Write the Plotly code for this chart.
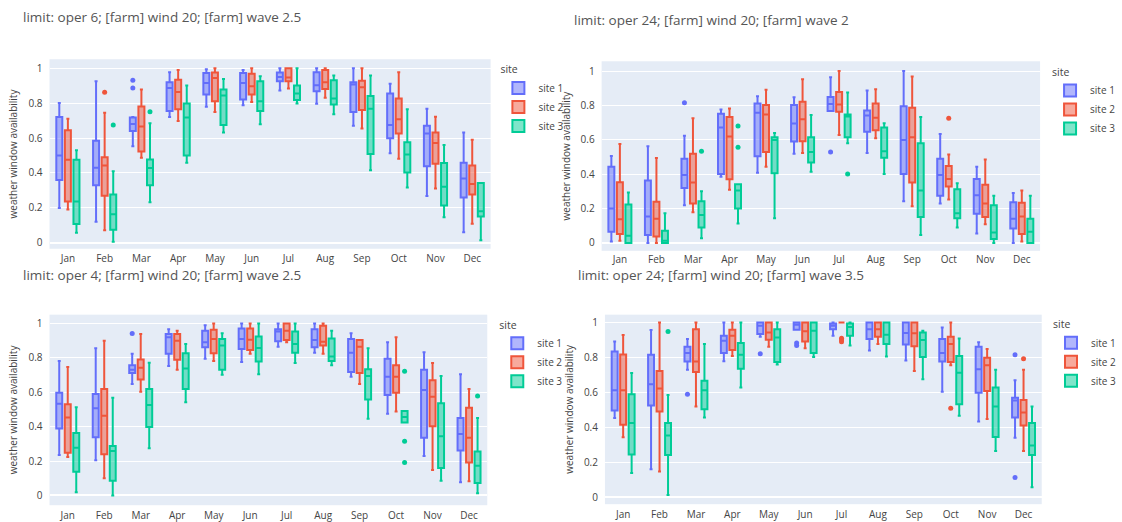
import plotly.graph_objects as go

MONTHS = ["Jan", "Feb", "Mar", "Apr", "May", "Jun", "Jul", "Aug", "Sep", "Oct", "Nov", "Dec"]
SITES = ["site 1", "site 2", "site 3"]
COLORS = ["#636efa", "#EF553B", "#00cc96"]
TITLES = [
    "limit: oper 6; [farm] wind 20; [farm] wave 2.5",
    "limit: oper 24; [farm] wind 20; [farm] wave 2",
    "limit: oper 4; [farm] wind 20; [farm] wave 2.5",
    "limit: oper 24; [farm] wind 20; [farm] wave 3.5",
]

# each row: (min, q1, median, q3, max) per month
P1_SITE1 = [(0.20, 0.36, 0.50, 0.72, 0.80), (0.12, 0.33, 0.43, 0.585, 0.925), (0.553, 0.64, 0.68, 0.717, 0.72),
            (0.72, 0.755, 0.887, 0.919, 0.977), (0.779, 0.849, 0.915, 0.972, 0.994), (0.787, 0.82, 0.915, 0.972, 0.99),
            (0.872, 0.925, 0.949, 0.975, 1.0), (0.796, 0.868, 0.902, 0.977, 1.0), (0.67, 0.749, 0.906, 0.919, 1.0),
            (0.513, 0.598, 0.674, 0.855, 0.911), (0.268, 0.438, 0.626, 0.67, 0.768), (0.06, 0.26, 0.368, 0.458, 0.632)]
P1_SITE2 = [(0.19, 0.236, 0.475, 0.645, 0.71), (0.072, 0.27, 0.443, 0.49, 0.745), (0.487, 0.523, 0.666, 0.78, 0.877),
            (0.698, 0.764, 0.864, 0.934, 0.99), (0.749, 0.811, 0.943, 0.975, 1.0), (0.806, 0.849, 0.896, 0.968, 1.0),
            (0.883, 0.925, 0.947, 1.0, 1.0), (0.83, 0.881, 0.919, 0.99, 1.0), (0.655, 0.76, 0.89, 0.928, 1.0),
            (0.481, 0.626, 0.708, 0.826, 0.977), (0.311, 0.453, 0.572, 0.632, 0.721), (0.109, 0.277, 0.336, 0.443, 0.59)]
P1_SITE3 = [(0.057, 0.108, 0.236, 0.475, 0.53), (0.006, 0.075, 0.164, 0.277, 0.41), (0.232, 0.33, 0.428, 0.477, 0.685),
            (0.458, 0.5, 0.717, 0.798, 0.9), (0.632, 0.674, 0.843, 0.877, 0.938), (0.679, 0.755, 0.811, 0.925, 0.953),
            (0.798, 0.817, 0.855, 0.9, 1.0), (0.736, 0.792, 0.826, 0.93, 0.958), (0.415, 0.509, 0.768, 0.84, 0.958),
            (0.317, 0.402, 0.506, 0.575, 0.764), (0.147, 0.213, 0.321, 0.457, 0.56), (0.015, 0.15, 0.18, 0.343, 0.343)]
P1_SITE1_OUT = {"Mar": [0.93, 0.887]}
P1_SITE2_OUT = {"Feb": [0.862]}
P1_SITE3_OUT = {"Feb": [0.674], "Mar": [0.75]}

P2_SITE1 = [(0.008, 0.065, 0.2, 0.443, 0.506), (0.0, 0.046, 0.153, 0.363, 0.563), (0.219, 0.319, 0.395, 0.49, 0.624),
            (0.385, 0.401, 0.672, 0.752, 0.777), (0.408, 0.504, 0.758, 0.811, 0.853), (0.519, 0.59, 0.695, 0.802, 0.847),
            (0.767, 0.767, 0.809, 0.849, 0.964), (0.523, 0.647, 0.742, 0.771, 0.887), (0.242, 0.401, 0.599, 0.796, 1.0),
            (0.229, 0.275, 0.395, 0.49, 0.634), (0.055, 0.17, 0.277, 0.372, 0.443), (0.0, 0.084, 0.141, 0.237, 0.29)]
P2_SITE2 = [(0.013, 0.052, 0.137, 0.353, 0.576), (0.0, 0.038, 0.141, 0.239, 0.494), (0.179, 0.229, 0.351, 0.519, 0.725),
            (0.309, 0.37, 0.62, 0.733, 0.782), (0.443, 0.529, 0.748, 0.802, 0.891), (0.523, 0.592, 0.719, 0.821, 0.952),
            (0.628, 0.763, 0.805, 0.878, 1.0), (0.609, 0.656, 0.729, 0.811, 0.895), (0.214, 0.351, 0.615, 0.786, 0.968),
            (0.252, 0.328, 0.372, 0.448, 0.515), (0.109, 0.151, 0.229, 0.338, 0.485), (0.008, 0.052, 0.153, 0.233, 0.305)]
P2_SITE3 = [(0.0, 0.0, 0.042, 0.223, 0.294), (0.0, 0.0, 0.013, 0.071, 0.172), (0.027, 0.09, 0.162, 0.242, 0.3),
            (0.113, 0.2, 0.305, 0.342, 0.342), (0.143, 0.405, 0.599, 0.615, 0.639), (0.414, 0.468, 0.529, 0.615, 0.744),
            (0.58, 0.615, 0.735, 0.748, 0.876), (0.401, 0.496, 0.534, 0.672, 0.697), (0.046, 0.151, 0.305, 0.58, 0.733),
            (0.09, 0.143, 0.172, 0.313, 0.347), (0.0, 0.023, 0.061, 0.219, 0.275), (0.0, 0.0, 0.065, 0.141, 0.275)]
P2_SITE1_OUT = {"Mar": [0.815], "Jul": [0.529]}
P2_SITE2_OUT = {"Oct": [0.725]}
P2_SITE3_OUT = {"Mar": [0.534], "Apr": [0.681, 0.557], "Jul": [0.401]}

P3_SITE1 = [(0.236, 0.389, 0.533, 0.598, 0.782), (0.205, 0.339, 0.508, 0.59, 0.856), (0.648, 0.713, 0.732, 0.757, 0.824),
            (0.753, 0.824, 0.92, 0.939, 0.967), (0.795, 0.862, 0.891, 0.958, 0.99), (0.776, 0.852, 0.91, 0.971, 1.0),
            (0.866, 0.897, 0.954, 0.967, 1.0), (0.83, 0.862, 0.904, 0.967, 1.0), (0.69, 0.718, 0.83, 0.91, 0.944),
            (0.475, 0.584, 0.69, 0.795, 0.891), (0.23, 0.335, 0.613, 0.732, 0.833), (0.077, 0.262, 0.358, 0.45, 0.705)]
P3_SITE2 = [(0.224, 0.249, 0.454, 0.531, 0.747), (0.1, 0.239, 0.464, 0.619, 0.9), (0.603, 0.674, 0.743, 0.791, 0.939),
            (0.732, 0.789, 0.9, 0.939, 0.958), (0.782, 0.828, 0.91, 0.964, 1.0), (0.824, 0.847, 0.906, 0.971, 1.0),
            (0.891, 0.904, 0.958, 1.0, 1.0), (0.824, 0.872, 0.895, 0.987, 1.0), (0.648, 0.713, 0.866, 0.904, 0.904),
            (0.489, 0.598, 0.69, 0.757, 0.92), (0.148, 0.402, 0.575, 0.67, 0.77), (0.082, 0.192, 0.335, 0.511, 0.619)]
P3_SITE3 = [(0.019, 0.138, 0.278, 0.364, 0.513), (0.0, 0.086, 0.259, 0.287, 0.569), (0.274, 0.398, 0.527, 0.619, 0.772),
            (0.542, 0.619, 0.738, 0.828, 0.881), (0.703, 0.732, 0.872, 0.91, 0.944), (0.705, 0.78, 0.858, 0.925, 1.0),
            (0.77, 0.83, 0.881, 0.954, 1.0), (0.757, 0.782, 0.808, 0.914, 0.958), (0.446, 0.559, 0.695, 0.734, 0.856),
            (0.425, 0.425, 0.456, 0.492, 0.492), (0.086, 0.159, 0.345, 0.536, 0.695), (0.013, 0.073, 0.172, 0.255, 0.45)]
P3_SITE1_OUT = {"Mar": [0.943]}
P3_SITE2_OUT = {}
P3_SITE3_OUT = {"Oct": [0.722, 0.316, 0.192], "Dec": [0.579]}

P4_SITE1 = [(0.453, 0.496, 0.613, 0.834, 0.892), (0.16, 0.525, 0.647, 0.815, 0.957), (0.73, 0.777, 0.825, 0.862, 0.906),
            (0.779, 0.826, 0.896, 0.925, 1.0), (0.919, 0.934, 0.981, 1.0, 1.0), (0.958, 0.958, 0.987, 1.0, 1.0),
            (0.925, 0.962, 0.981, 0.994, 1.0), (0.84, 0.906, 0.962, 1.0, 1.0), (0.783, 0.874, 0.94, 1.0, 1.0),
            (0.604, 0.777, 0.825, 0.906, 0.972), (0.434, 0.598, 0.732, 0.862, 0.887), (0.34, 0.457, 0.553, 0.57, 0.67)]
P4_SITE2 = [(0.343, 0.415, 0.613, 0.817, 0.928), (0.147, 0.491, 0.623, 0.723, 1.0), (0.519, 0.717, 0.777, 0.962, 1.0),
            (0.808, 0.843, 0.925, 0.958, 1.0), (0.862, 0.902, 0.943, 1.0, 1.0), (0.853, 0.892, 0.95, 1.0, 1.0),
            (1.0, 1.0, 1.0, 1.0, 1.0), (0.877, 0.919, 0.962, 1.0, 1.0), (0.723, 0.864, 0.938, 1.0, 1.0),
            (0.755, 0.774, 0.877, 0.919, 1.0), (0.447, 0.608, 0.755, 0.798, 0.849), (0.264, 0.411, 0.485, 0.557, 0.73)]
P4_SITE3 = [(0.138, 0.245, 0.425, 0.589, 0.711), (0.013, 0.242, 0.353, 0.425, 0.585), (0.457, 0.504, 0.613, 0.666, 0.877),
            (0.628, 0.736, 0.815, 0.883, 1.0), (0.76, 0.774, 0.915, 0.962, 1.0), (0.802, 0.825, 0.953, 1.0, 1.0),
            (0.868, 0.925, 0.975, 0.994, 1.0), (0.806, 0.877, 0.93, 1.0, 1.0), (0.675, 0.802, 0.9, 0.943, 0.953),
            (0.466, 0.532, 0.713, 0.808, 0.909), (0.264, 0.345, 0.519, 0.628, 0.73), (0.057, 0.242, 0.296, 0.425, 0.519)]
P4_SITE1_OUT = {"Mar": [0.589], "May": [0.821], "Jun": [0.883, 0.868], "Dec": [0.815, 0.113]}
P4_SITE2_OUT = {"Jul": [0.91, 0.90, 0.89], "Oct": [0.509], "Dec": [0.792]}
P4_SITE3_OUT = {"Feb": [0.949]}

PANELS = [
    ([P1_SITE1, P1_SITE2, P1_SITE3], [P1_SITE1_OUT, P1_SITE2_OUT, P1_SITE3_OUT]),
    ([P2_SITE1, P2_SITE2, P2_SITE3], [P2_SITE1_OUT, P2_SITE2_OUT, P2_SITE3_OUT]),
    ([P3_SITE1, P3_SITE2, P3_SITE3], [P3_SITE1_OUT, P3_SITE2_OUT, P3_SITE3_OUT]),
    ([P4_SITE1, P4_SITE2, P4_SITE3], [P4_SITE1_OUT, P4_SITE2_OUT, P4_SITE3_OUT]),
]

# layout geometry
X_DOMAINS = [[0.0446, 0.442], [0.542, 0.937], [0.0446, 0.439], [0.545, 0.9385]]
Y_DOMAINS = [[0.517, 0.885], [0.513, 0.881], [0.019, 0.389], [0.021, 0.389]]
Y_RANGES = [[-0.034, 1.051], [-0.046, 1.057], [-0.057, 1.052], [-0.04, 1.045]]
X_STANDOFF = [2, 1, 3, 3]
LEGEND_POS = [(0.449, 0.884), (0.946, 0.879), (0.448, 0.388), (0.947, 0.389)]
TITLE_POS = [(0.0186, 0.967), (0.5155, 0.962), (0.0186, 0.4655), (0.5185, 0.4655)]
BOXGAP = 0.3
POS = list(range(len(MONTHS)))

fig = go.Figure()
for p, (stats_list, outs_list) in enumerate(PANELS):
    sfx = "" if p == 0 else str(p + 1)
    nsite = len(stats_list)
    slot = (1 - BOXGAP) / nsite
    for s, (stats, outs) in enumerate(zip(stats_list, outs_list)):
        fig.add_trace(go.Box(
            name=SITES[s],
            x=POS,
            lowerfence=[r[0] for r in stats],
            q1=[r[1] for r in stats],
            median=[r[2] for r in stats],
            q3=[r[3] for r in stats],
            upperfence=[r[4] for r in stats],
            boxpoints=False,
            orientation="v",
            marker=dict(color=COLORS[s]),
            line=dict(width=2),
            offsetgroup=SITES[s],
            legend="legend" + sfx,
            legendgroup=SITES[s] + sfx,
            xaxis="x" + sfx,
            yaxis="y" + sfx,
            hoverinfo="y",
        ))
        # outlier points, placed at the same grouped offset as the box
        off = (s - (nsite - 1) / 2) * slot
        ox, oy = [], []
        for i, m in enumerate(MONTHS):
            for v in outs.get(m, []):
                ox.append(i + off)
                oy.append(v)
        fig.add_trace(go.Scatter(
            x=ox, y=oy, mode="markers",
            marker=dict(color=COLORS[s], size=5),
            showlegend=False, legendgroup=SITES[s] + sfx,
            xaxis="x" + sfx, yaxis="y" + sfx, hoverinfo="y",
        ))

layout = dict(
    width=1122, height=522,
    margin=dict(l=0, r=0, t=0, b=0),
    paper_bgcolor="white",
    plot_bgcolor="#E5ECF6",
    boxmode="group", boxgap=BOXGAP, boxgroupgap=0.3,
    font=dict(family="Open Sans, sans-serif", size=10, color="#444"),
    showlegend=True,
    annotations=[],
)
for p in range(4):
    sfx = "" if p == 0 else str(p + 1)
    layout["xaxis" + sfx] = dict(
        domain=X_DOMAINS[p], anchor="y" + sfx, type="linear",
        range=[-0.5, len(MONTHS) - 0.5],
        tickvals=POS, ticktext=MONTHS,
        showgrid=False, zeroline=False, tickfont=dict(size=10, color="#444"),
        ticks="", ticklabelstandoff=X_STANDOFF[p],
    )
    layout["yaxis" + sfx] = dict(
        domain=Y_DOMAINS[p], anchor="x" + sfx, range=Y_RANGES[p],
        tickvals=[0, 0.2, 0.4, 0.6, 0.8, 1], ticktext=["0", "0.2", "0.4", "0.6", "0.8", "1"],
        gridcolor="white", gridwidth=1, zeroline=True, zerolinecolor="white", zerolinewidth=2,
        tickfont=dict(size=10, color="#444"), ticklabelstandoff=6,
        title=dict(text="weather window availability", font=dict(size=10, color="#444"), standoff=8),
    )
    lx, ly = LEGEND_POS[p]
    layout["legend" + sfx] = dict(
        x=lx, y=ly, xanchor="left", yanchor="top",
        title=dict(text="site", font=dict(size=10.5, color="#444")),
        font=dict(size=10, color="#444"), bgcolor="rgba(0,0,0,0)",
        tracegroupgap=0,
    )
    tx, ty = TITLE_POS[p]
    layout["annotations"].append(dict(
        text=TITLES[p], xref="paper", yref="paper", x=tx, y=ty,
        xanchor="left", yanchor="middle", showarrow=False,
        font=dict(size=13.5, color="#555"),
    ))

fig.update_layout(**layout)
fig.write_html("out.html", config={"displayModeBar": False},
               post_script="document.body.style.margin='0';")
